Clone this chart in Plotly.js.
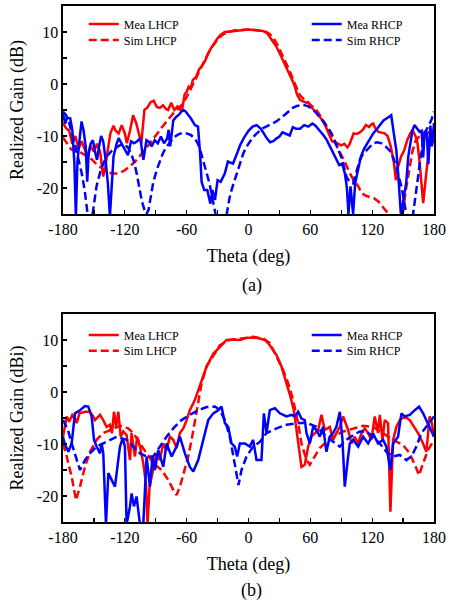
<!DOCTYPE html>
<html>
<head>
<meta charset="utf-8">
<script src="https://cdn.plot.ly/plotly-3.0.1.min.js"></script>
<style>html,body{margin:0;padding:0;background:#fff}#chart{width:453px;height:616px}</style>
</head>
<body>
<div id="chart"></div>
<script>
// ---------- DATA (a) ----------
const thetaA_MeaL = [-180,-177,-174,-171,-168,-165,-162,-159,-156,-153,-150,-147,-144,-141,-139,-136,-134,-131,-129,-126,-123,-120,-118,-115,-112,-109,-106,-104,-101,-98,-95,-92,-89,-86,-83,-80,-78,-75,-72,-69,-66,-64,-62,-60,-58,-56,-54,-51,-48,-45,-42,-39,-36,-33,-30,-27,-23,-18,-12,-6,0,5,10,14,18,21,24,27,30,33,36,39,41,43,45,47,50,53,56,58,60,63,66,69,72,75,78,81,84,87,90,93,96,98,100,102,105,108,111,114,117,119,121,123,126,129,132,135,138,141,143,145,148,151,154,157,159,162,164,166,168,169.5,171,173,175,177,179,180];
const gainA_MeaL  = [-7.5,-8.5,-9,-11.5,-10,-12.5,-11,-12.5,-14,-12,-13,-11.5,-13,-17.8,-16,-12,-9.5,-8,-9,-9.5,-7.9,-9.5,-11.4,-9,-6,-7.5,-10,-11.4,-5,-4.5,-3.5,-3.2,-4.4,-4.6,-4.1,-4.8,-5,-3.6,-5,-4.3,-5,-4.5,-2,-1.5,-0.5,-0.8,0.8,1.3,2.8,3.5,4.5,6,7,8,8.8,9.5,10,10.1,10.2,10.3,10.5,10.4,10.3,10.2,9.8,9,8.2,7.2,6,4.8,3.5,2.3,1.5,0.5,-0.5,-2,-3.1,-3.3,-3.6,-3.5,-4.2,-4.9,-5.6,-6.3,-7,-8.2,-9.8,-11,-11.2,-11.5,-11.8,-11.5,-12.2,-11.6,-10.5,-9.5,-9.6,-9.3,-8.8,-7.9,-8.3,-7.8,-7.6,-8.5,-9.2,-9.3,-9.5,-10,-12,-15,-18.5,-16,-14,-12.8,-10.8,-9.5,-8.8,-10,-11.4,-15,-20,-22.9,-20,-16.6,-12,-8.8,-10.5,-11.4];

const thetaA_SimL = [-180,-176,-172,-168,-164,-160,-156,-152,-148,-144,-140,-136,-132,-128,-124,-120,-116,-112,-108,-104,-100,-96,-92,-88,-84,-80,-76,-72,-68,-64,-60,-56,-52,-48,-44,-40,-36,-32,-28,-24,-20,-14,-8,0,6,12,16,20,24,28,32,36,40,44,47,50,54,58,62,66,70,74,78,82,86,90,94,98,102,106,110,114,118,122,126,130,134,138,142,146,150,153,156,159,162,166,170,175,180];
const gainA_SimL  = [-10.3,-11.5,-12.6,-12.8,-13,-13.5,-14,-14.5,-15.3,-16,-16.6,-17,-17.2,-17.2,-17,-16.6,-16,-15.3,-14.5,-13.5,-12.6,-11.6,-10.5,-9.4,-8.3,-7.3,-6.3,-5.4,-4.7,-3.8,-2.5,-1,0.5,2.3,4,5.5,7,8,9,9.6,10,10.3,10.4,10.5,10.4,10.3,10.1,9.7,8.9,7.6,6,4.4,2.5,0.5,-1,-2.2,-3,-3.6,-4.3,-5,-6.2,-7.5,-9,-10.5,-12,-13.5,-15.2,-17,-18.5,-19.5,-21,-21.5,-21.8,-22,-22.6,-23.6,-24.5,-25.5,-27,-26.5,-24.5,-20,-16.6,-13,-11,-10,-9.5,-9.3,-11.2];

const thetaA_MeaR = [-180,-178,-176,-173,-171,-169,-167.5,-166,-164,-162,-160,-158,-156.5,-155,-153,-151,-149,-147,-145,-143,-141,-139,-136.5,-134.5,-132.5,-131,-128,-126,-123,-120,-117,-114,-111,-108,-105,-102,-99,-96,-94,-91,-88,-85,-82,-79,-77.5,-76,-73,-70,-68,-65,-63,-61,-59,-56,-52,-49,-47,-45.5,-43,-40,-37,-35,-32.5,-30,-27,-23,-20,-15,-11,-8,-4,0,4,8,12,15,18,21,24,27,30,33,36,40,43,46,50,54,58,62,65,69,73,76,79,82,85,88,91,93.5,95.5,97,99,101.5,103.5,106,109,112,115,118,121,124,127,131,135,138.5,141,143.5,145.5,148,150.5,153,155,157,159,161,164,166,168,169.5,171,173,174.5,176.5,178,180];
const gainA_MeaR  = [-5.6,-7.6,-6.5,-6.6,-8.8,-15,-25.5,-15,-10.8,-7.2,-9,-12,-18.8,-13,-11.4,-10.8,-13,-14.6,-12,-10,-11,-14,-19,-25.5,-19,-14,-11.5,-10.4,-11.5,-12.5,-13.7,-11,-11.4,-11,-10.4,-14.6,-10.8,-11.2,-12,-10.8,-11.4,-10.1,-11.4,-10.5,-8.8,-12,-7,-6.3,-6,-5.3,-5,-5.3,-5.8,-6.6,-7.9,-8.2,-13.3,-18.8,-20.4,-20.4,-23,-20.4,-22.3,-18.5,-18.8,-17.2,-14.9,-15.3,-13.3,-11.7,-10.2,-9,-8.2,-7.9,-8.6,-9.6,-10.5,-11.2,-11,-10.5,-10.1,-9.3,-9.6,-9.9,-8.3,-8.6,-8.6,-7.9,-8.2,-7.6,-8,-8.9,-9.9,-10.8,-12,-13.3,-14.6,-15.6,-15.3,-17.2,-20,-25,-19.7,-25,-19.1,-17,-14,-12.5,-11.5,-10.5,-9.5,-8.8,-8,-7,-6.5,-6,-9.5,-12.8,-18,-25.5,-22,-19.1,-14,-11.1,-9,-7.9,-8.8,-9.2,-9,-14.1,-9,-9.5,-15.4,-8,-12,-7.5];

const thetaA_SimR = [-180,-177,-174,-171,-168,-165,-162,-159,-157,-155.5,-152,-150,-147.5,-144,-141,-137,-133,-129,-125,-121,-117,-114,-111,-108.5,-106,-103.5,-101,-99,-97,-95,-92.5,-89,-86,-83,-80,-76,-72,-68,-64,-60,-56,-52,-49,-46,-43,-40.5,-38,-36,-34,-32.5,-31,-22,-20.5,-18.5,-16.5,-14,-11.5,-8,-5,-2,1,4,8,14,20,27,33,37,40,43,47,53,58,62,66,70,74,78,81,85,88,91,95,98,101.5,104.5,108,111,114.5,118,121,125,129,133,137,140.5,143.5,146,148.5,150.5,152,154,159,161.3,163,164.6,166,167.8,170,172.7,175,177.5,180];
const gainA_SimR  = [-5.3,-6,-7.5,-9.5,-12,-14.5,-17,-20.4,-23,-26,-26,-23,-19.7,-17,-15.3,-13.8,-12.9,-12.3,-11.8,-11.5,-12.2,-13.3,-15,-17.2,-20,-22.5,-24.2,-25,-24.2,-22,-19,-16.5,-14.8,-13.3,-12.2,-11.1,-10.2,-9.7,-9.4,-9.5,-9.8,-10.5,-11.5,-13.3,-15.2,-17.2,-19,-21,-23,-24.5,-26,-26,-24.2,-22,-20.4,-18.8,-17.2,-15.2,-13.3,-12.1,-11.1,-10.3,-9.5,-8.5,-7.9,-7.2,-6.3,-5.6,-5,-4.6,-4.2,-4,-4.3,-4.8,-5.6,-6.5,-7.6,-8.7,-9.7,-11.5,-13,-14.6,-17.8,-18.8,-19.1,-17,-14.6,-13.5,-12.8,-12,-11.4,-11.2,-11.4,-12,-12.8,-14.2,-16,-18,-19.8,-22,-24,-26,-26,-22.9,-20.4,-17.8,-15.5,-12.8,-10.5,-8.8,-7.8,-6.9,-5.3];

// ---------- DATA (b) ----------
const thetaB_MeaL = [-180,-178,-176.4,-174,-171,-168,-166.7,-164,-161,-158.7,-154,-151,-149,-146,-144.1,-141,-137.7,-134.5,-132.5,-130.5,-128.5,-126.3,-124,-121.5,-118.3,-115,-113.5,-110.2,-108,-105.3,-102.1,-99.5,-98,-96,-92.4,-89.2,-86,-82.7,-79.5,-76.3,-73,-69.8,-66.6,-63.3,-60,-56.9,-52,-48.8,-45.6,-40.7,-34,-27.8,-21.3,-15,-8,-2,4.5,11,15.9,20.7,27.2,32,36.9,40.7,44,47.2,49.8,51.4,54.6,57.9,61.1,64.3,67.6,70.8,74,78.9,82.1,85.3,88.6,91.8,96.7,99.9,103.1,106.4,109.6,112.8,116,119.3,122.5,125.7,127.4,130,132.2,135.4,137.7,140.3,143.5,146.8,151.6,156.5,159.7,164.5,169.4,172.6,175.8,178,180];
const gainB_MeaL  = [-8.6,-6,-4.7,-5.7,-4.4,-5.2,-6,-4.1,-3.9,-3.8,-3.8,-4.6,-5.4,-4.8,-4.4,-5.4,-6.7,-6.3,-7.9,-3.8,-6.7,-3.8,-8.6,-7.6,-8.3,-13.1,-7.9,-12.4,-8.6,-10.5,-13.7,-17.6,-25.5,-18.2,-14.4,-11.8,-13.1,-9.9,-11.2,-8.6,-9.2,-10.8,-7.9,-7,-5.4,-3.5,-1.5,0.4,2.3,4.9,7.4,8.7,10,10.1,10,10.4,10.5,10.3,10,9,7.1,4.9,1.7,-0.9,-3.5,-7.9,-12.4,-14.4,-14,-10.5,-8.6,-7.9,-7.3,-4.4,-7.3,-6.7,-9.2,-7.9,-6.7,-4.7,-7.3,-9.9,-8.6,-9.9,-7.9,-7,-7.9,-9.2,-4.7,-7.9,-4.4,-9.2,-5.4,-6,-23,-9.2,-6.7,-5.4,-4.7,-5.4,-6.3,-7.9,-9.9,-11.5,-4.7,-6,-8.6];

const thetaB_SimL = [-180,-176.4,-171.6,-167.4,-163.5,-158.7,-153.8,-147.4,-140.9,-134.4,-124.7,-116.7,-111.8,-105.3,-98.9,-92.4,-84.3,-77.9,-73,-69.8,-66.5,-61.7,-58.5,-55.2,-52,-48.8,-45.5,-40.7,-34.2,-27.8,-18.1,-8.4,4.5,14.2,20.7,27.2,33.6,38.5,43.3,48.2,51.4,56.3,59.5,64.3,69.2,75.6,82.1,91.8,101.5,111.2,120.9,130.6,140.3,150,156.5,162.9,165.5,169.4,174.2,180];
const gainB_SimL  = [-9.9,-12.4,-16.3,-20.8,-18.2,-14.4,-11.5,-9.2,-7.9,-7.3,-6.5,-7,-7.9,-9.9,-11.8,-13.7,-15,-16.9,-18.8,-19.8,-18.2,-15,-12.4,-9.2,-5.4,-1.5,1.7,4.9,7.1,9,10,10.3,10.6,10.3,9.4,6.8,4.2,1.7,-1.5,-6,-9.9,-13.1,-14,-12.4,-10.8,-9.6,-8.6,-7.6,-7,-6.5,-6.7,-7.9,-9.2,-10.2,-11.8,-14.7,-16,-13.7,-11.2,-9.2];

const thetaB_MeaR = [-180,-178.4,-174.8,-171.6,-168.4,-163.5,-158.7,-155.5,-152.2,-149.9,-147.4,-144.1,-142.5,-140.9,-138.3,-136,-132.8,-129.6,-126.4,-124.7,-122.1,-119.9,-118.3,-115,-113.4,-111.2,-108.6,-105.3,-102.1,-98.9,-95.7,-93.1,-90.8,-87.6,-82.7,-79.5,-74.6,-69.8,-66.6,-61.7,-56.9,-53.6,-48.8,-44,-39.1,-34.2,-29.4,-26.2,-22.9,-19.7,-16.5,-13.3,-11,-8.4,-3.5,1.3,4.5,7.8,12.6,14.9,17.5,20.7,25.6,30.4,33.6,36.9,41.7,45,48.2,51.4,54.6,56.3,59.5,62.7,66,69.2,72.4,75.6,78.9,82.1,85.3,88.6,91.2,93.4,96.7,98.3,101.5,106.4,111.2,116.1,120.9,125.7,130.6,133.8,137.7,140.3,145.1,148.4,151.6,156.5,161.3,165.5,169.4,174.2,180];
const gainB_MeaR  = [-8.6,-9.9,-11.5,-9.9,-4.1,-3.5,-2.7,-2.8,-4.7,-9.2,-10.5,-11.8,-9.9,-11.8,-25.5,-15.6,-16.9,-18.2,-13.1,-10.5,-8.9,-10.5,-25.5,-22,-19.5,-22,-20.1,-25.5,-25.5,-12.4,-18.2,-12.4,-15,-11.2,-14.4,-9.9,-12.4,-10.5,-8.6,-11.8,-14.4,-15.3,-13.1,-9.2,-5.4,-4.1,-3.5,-2.8,-6,-6.7,-9.9,-10.5,-12.4,-9.9,-9.9,-10.5,-9.2,-13.1,-13.1,-4.1,-7.9,-3.5,-3.1,-4.1,-4.4,-4.7,-4.4,-4.7,-3.8,-5.1,-5.4,-7.9,-9.9,-6.7,-7.3,-8.6,-6.7,-11.5,-8.6,-7.9,-6.7,-3.8,-9.2,-18.2,-12.4,-9.9,-9.2,-10.5,-8.6,-9.9,-8,-9.9,-9.2,-10.5,-15,-9.9,-8.6,-4.1,-4.7,-4.4,-3.5,-2.8,-4.1,-6,-8.6];

const thetaB_SimR = [-180,-175.2,-171.6,-166.7,-163.5,-158.7,-153.8,-147.4,-137.7,-128,-118.3,-111.8,-105.3,-98.9,-92.4,-86,-79.5,-73,-65,-56.9,-48.8,-40.7,-32.6,-27.8,-22.9,-18.1,-14.8,-11.6,-9.7,-6.8,-1.9,4.5,11,17.5,27.2,36.9,46.6,56.3,66,75.6,82.1,88.6,95,101.5,108,114.4,120.9,127.4,133.8,140.3,146.8,153.2,158.1,162.9,167.8,172.6,180];
const gainB_SimR  = [-5.4,-7.3,-9.9,-13.1,-15,-13.1,-11.8,-10.5,-9.6,-8.6,-9.2,-10.5,-11.8,-12.4,-12.4,-10.5,-8.6,-7,-5.4,-4.4,-3.5,-2.9,-2.8,-3.5,-5.4,-8.6,-12.4,-15.6,-17.9,-15,-12.4,-10.5,-9.6,-7.9,-7,-6.3,-6,-5.9,-6.7,-8.6,-9.6,-10.5,-9.2,-8.3,-7.6,-7.6,-8.6,-9.9,-11.5,-12.4,-12.1,-13.1,-12.4,-10.5,-7.9,-6.7,-4.7];

// ---------- AXIS LABELS ----------
const xTickVals = [-180,-150,-120,-90,-60,-30,0,30,60,90,120,150,180];
const xTickText = ['-180','','-120','','-60','','0','','60','','120','','180'];
const yTickVals = [-25,-20,-15,-10,-5,0,5,10,15];
const yTickText = ['','-20','','-10','','0','','10',''];
const seriesNames = ['Mea LHCP','Sim LHCP','Mea RHCP','Sim RHCP'];
const xTitle = 'Theta (deg)';
const yTitleA = 'Realized Gain (dB)';
const yTitleB = 'Realized Gain (dBi)';

const RED = '#ff0000', BLUE = '#0000ff';
const FONT = 'Liberation Serif, Times New Roman, serif';
const dashS = '8px,4px';

function tr(x, y, name, color, dash, xa, ya, leg) {
  return {x: x, y: y, name: name, type: 'scatter', mode: 'lines', xaxis: xa, yaxis: ya, legend: leg,
    line: {color: color, width: 2.5, dash: dash}, hoverinfo: 'skip'};
}

const data = [
  tr(thetaA_MeaL, gainA_MeaL, seriesNames[0], RED, 'solid', 'x', 'y', 'legend'),
  tr(thetaA_SimL, gainA_SimL, seriesNames[1], RED, dashS, 'x', 'y', 'legend2'),
  tr(thetaA_MeaR, gainA_MeaR, seriesNames[2], BLUE, 'solid', 'x', 'y', 'legend3'),
  tr(thetaA_SimR, gainA_SimR, seriesNames[3], BLUE, dashS, 'x', 'y', 'legend4'),
  tr(thetaB_MeaL, gainB_MeaL, seriesNames[0], RED, 'solid', 'x2', 'y2', 'legend5'),
  tr(thetaB_SimL, gainB_SimL, seriesNames[1], RED, dashS, 'x2', 'y2', 'legend6'),
  tr(thetaB_MeaR, gainB_MeaR, seriesNames[2], BLUE, 'solid', 'x2', 'y2', 'legend7'),
  tr(thetaB_SimR, gainB_SimR, seriesNames[3], BLUE, dashS, 'x2', 'y2', 'legend8')
];

function xax(anchor) {
  return {anchor: anchor, range: [-180, 180], tickmode: 'array', tickvals: xTickVals, ticktext: xTickText,
    ticks: 'inside', ticklen: 4, tickwidth: 1.2, tickcolor: '#000', showline: true, linecolor: '#000', linewidth: 1.6,
    mirror: true, showgrid: false, zeroline: false, tickfont: {family: FONT, size: 16, color: '#000'},
    title: {text: xTitle, font: {family: FONT, size: 18, color: '#000'}, standoff: 12}, automargin: false};
}
function yax(anchor, domain, t) {
  return {anchor: anchor, domain: domain, range: [-25, 15], tickmode: 'array', tickvals: yTickVals, ticktext: yTickText,
    ticks: 'inside', ticklen: 4, tickwidth: 1.2, tickcolor: '#000', showline: true, linecolor: '#000', linewidth: 1.6,
    mirror: true, showgrid: false, zeroline: false, tickfont: {family: FONT, size: 16, color: '#000'},
    title: {text: t, font: {family: FONT, size: 18, color: '#000'}, standoff: 8}, automargin: false};
}
function leg(x, y) {
  return {x: x, y: y, xanchor: 'left', yanchor: 'middle', bgcolor: 'rgba(0,0,0,0)', borderwidth: 0,
    font: {family: FONT, size: 12, color: '#000'}};
}
const LX = 0.056, RX = 0.657;
const layout = {
  width: 453, height: 616, paper_bgcolor: '#fff', plot_bgcolor: '#fff',
  margin: {l: 63, r: 19, t: 6, b: 94},
  showlegend: true,
  xaxis: xax('y'), yaxis: yax('x', [0.5969, 1], yTitleA),
  xaxis2: xax('y2'), yaxis2: yax('x2', [0, 0.4031], yTitleB),
  legend: leg(LX, 0.9651), legend2: leg(LX, 0.9341), legend3: leg(RX, 0.9651), legend4: leg(RX, 0.9341),
  legend5: leg(LX, 0.3624), legend6: leg(LX, 0.3320), legend7: leg(RX, 0.3624), legend8: leg(RX, 0.3320),
  annotations: [
    {text: '(a)', x: 0.5094, y: 0.4574, xref: 'paper', yref: 'paper', showarrow: false, font: {family: FONT, size: 18, color: '#000'}},
    {text: '(b)', x: 0.5094, y: -0.1564, xref: 'paper', yref: 'paper', showarrow: false, font: {family: FONT, size: 18, color: '#000'}}
  ]
};
Plotly.newPlot('chart', data, layout, {staticPlot: true, displayModeBar: false});
</script>
</body>
</html>
